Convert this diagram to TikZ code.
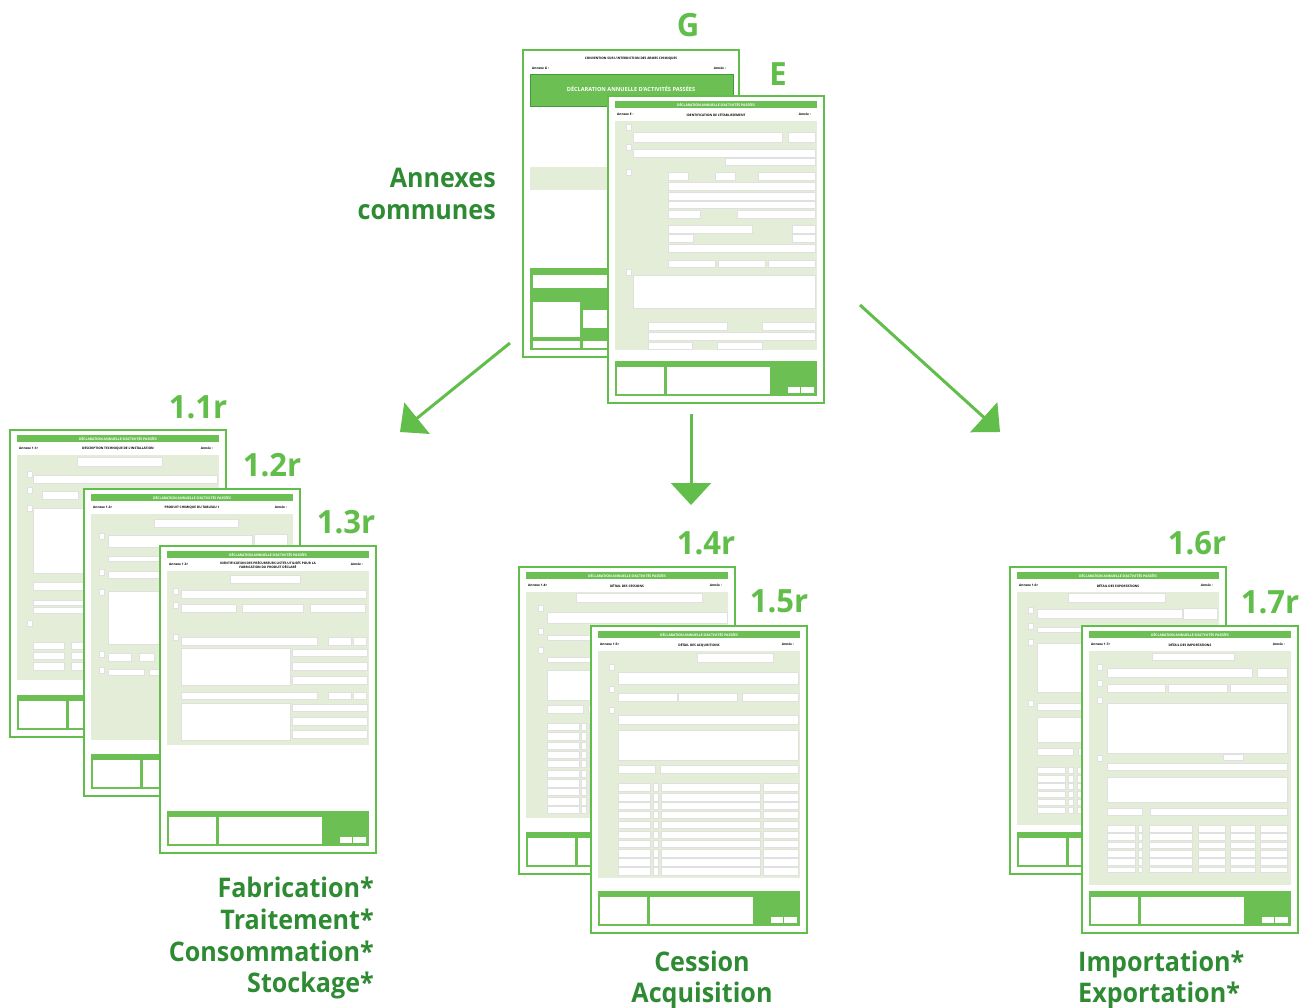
\documentclass[tikz,border=0pt]{standalone}
\usepackage{fontspec}
\setmainfont{Open Sans}
\newfontfamily\capfont[FakeStretch=0.93]{Open Sans}
\newfontfamily\numfont[FakeStretch=0.97]{Open Sans}
\usetikzlibrary{arrows.meta}
\definecolor{lg}{HTML}{62BE4A}
\definecolor{dg}{HTML}{2E8B34}
\definecolor{formbg}{HTML}{E3EDD8}
\definecolor{barg}{HTML}{6CBF52}
\tikzset{
  page/.style={draw=lg, line width=1.5pt, fill=white},
  bar/.style={fill=barg},
  formbody/.style={fill=formbg},
  fld/.style={fill=white, draw=black!12, line width=0.2pt},
  tiny/.style={font=\fontsize{3.2}{3.8}\selectfont\bfseries, inner sep=0pt},
  bartext/.style={font=\fontsize{3.4}{4}\selectfont\bfseries, text=white, inner sep=0pt},
  numlabel/.style={font=\numfont\fontsize{32}{32}\selectfont\bfseries, text=lg, inner sep=0pt},
  caption/.style={font=\capfont\fontsize{27}{32}\selectfont\bfseries, text=dg, inner sep=0pt},
  bigarrow/.style={draw=lg, line width=3pt, -{Triangle[length=22pt,width=40pt]}}
}
\newcommand\formhead[4]{%
  \draw[page] (0,0) rectangle (216,307);
  \fill[bar] (7,5) rectangle (209,12);
  \node[bartext] (#1bar) at (108,8.5) {DÉCLARATION ANNUELLE D'ACTIVITÉS PASSÉES};
  \node[tiny, anchor=west] (#1ann) at (9,18) {#2};
  \node[tiny, align=center] (#1tit) at (108,19) {#3};
  \node[tiny, anchor=east] (#1yr) at (203,18) {Année :};
  \fill[formbody] (7,25) rectangle (209,#4);
  \fill[bar] (7,265) rectangle (209,300);
  \fill[white] (9,271) rectangle (56,298);
  \fill[white] (59,271) rectangle (162,298);
  \fill[white] (180,291) rectangle (192,297);
  \fill[white] (193,291) rectangle (206,297);
}
\newcommand\formfields[1]{\foreach \xa/\ya/\xb/\yb in {#1} {\fill[fld] (\xa,\ya) rectangle (\xb,\yb);}}
\newcommand\formboxes[1]{\foreach \xa/\ya in {#1} {\fill[fld] (\xa,\ya) rectangle ++(5,6);}}
\newcommand\formtable[2]{\foreach \ya/\yb in {#1} {\foreach \xa/\xb in {#2} {\fill[fld] (\xa,\ya) rectangle (\xb,\yb);}}}

\begin{document}
\begin{tikzpicture}[x=1pt,y=-1pt]
\fill[white] (0,0) rectangle (1306,1008);
\useasboundingbox (0,0) rectangle (1306,1008);

% ---------------- Form G ----------------
\begin{scope}[shift={(523,50)}]
  \draw[page] (0,0) rectangle (216,307);
  \node[tiny] (Gconv) at (108,9) {CONVENTION SUR L'INTERDICTION DES ARMES CHIMIQUES};
  \node[tiny, anchor=west] (Gann) at (9,18) {Annexe G :};
  \node[tiny, anchor=east] (Gyr) at (203,18) {Année :};
  \fill[bar, draw=dg!70!barg, line width=0.6pt] (7,24) rectangle (210,56);
  \node[font=\fontsize{5.6}{6}\selectfont\bfseries, text=white, inner sep=0pt] (Gtitle) at (108,39) {DÉCLARATION ANNUELLE D'ACTIVITÉS PASSÉES};
  \fill[formbody] (7,117) rectangle (210,140);
  \fill[bar] (7,218) rectangle (210,300);
  \fill[white] (10,225) rectangle (207,238);
  \fill[white] (10,252) rectangle (57,287);
  \fill[white] (60,260) rectangle (207,278);
  \fill[white] (10,291) rectangle (57,298);
  \fill[white] (60,291) rectangle (207,298);
\end{scope}

% ---------------- Form E ----------------
\begin{scope}[shift={(608,96)}]
  \formhead{E}{Annexe E :}{IDENTIFICATION DE L'ÉTABLISSEMENT}{254}
  \formfields{25/36/174/46, 180/36/207/46, 25/53/207/61, 117/62/207/69,
    60/76/80/84, 107/76/127/84, 150/76/207/84, 60/86/207/94, 60/96/207/104,
    60/105/207/112, 60/114/92/122, 129/114/207/122, 60/129/144/137, 184/129/207/137,
    60/138/85/146, 184/138/207/146, 60/148/207/156, 60/164/107/171, 110/164/157/171,
    160/164/207/171, 25/179/207/212, 40/226/119/234, 154/226/207/234, 40/236/207/244,
    40/246/84/253, 109/246/154/253}
  \formboxes{18/28, 18/48, 18/73, 18/173}
\end{scope}

% ---------------- Form 1.1r ----------------
\begin{scope}[shift={(10,430)}]
  \formhead{Fa}{Annexe 1.1r}{DESCRIPTION TECHNIQUE DE L'INSTALLATION}{250}
  \formfields{67/27/152/36, 23/45/207/53, 32/61/68/69, 23/78/207/143,
    23/152/207/160, 23/170/207/175, 23/177/207/183}
  \formtable{212/219, 222/229, 232/240}{23/54, 61/92, 98/130, 136/170, 176/207}
  \formboxes{17/41, 17/57, 17/75, 17/190}
\end{scope}

% ---------------- Form 1.2r ----------------
\begin{scope}[shift={(84,489)}]
  \formhead{Fb}{Annexe 1.2r}{PRODUIT CHIMIQUE DU TABLEAU 1}{251}
  \formfields{70/30/154/38, 24/46/168/58, 170/45/203/56, 24/67/206/72,
    24/82/83/89, 89/82/148/89, 151/82/206/89, 24/102/206/155,
    24/164/47/172, 55/164/70/172, 80/164/130/172, 24/180/60/186, 65/180/130/186}
  \formboxes{15/44, 15/80, 15/100, 15/162, 15/178}
\end{scope}

% ---------------- Form 1.3r ----------------
\begin{scope}[shift={(160,546)}]
  \formhead{Fc}{Annexe 1.3r}{IDENTIFICATION DES PRÉCURSEURS LISTÉS UTILISÉS POUR LA\\FABRICATION DU PRODUIT DÉCLARÉ}{199}
  \formfields{70/29/140/37, 21/44/206/52, 21/58/76/66, 82/58/143/66, 150/58/205/66,
    21/91/157/99, 168/91/191/99, 193/91/206/99,
    21/102/130/139, 132/103/207/110, 132/116/207/124, 132/130/207/138,
    21/146/157/153, 168/146/191/153, 193/146/206/153,
    21/157/130/194, 132/158/207/165, 132/171/207/179, 132/184/207/192}
  \formboxes{13/42, 13/56, 13/88}
\end{scope}

% ---------------- Form 1.4r ----------------
\begin{scope}[shift={(519,567)}]
  \formhead{Fd}{Annexe 1.4r}{DÉTAIL DES CESSIONS}{251}
  \formfields{57/26/183/35, 28/45/208/56, 28/68/83/73, 89/68/148/73, 151/68/206/73,
    28/90/206/95, 28/103/206/133, 28/138/64/146, 69/138/206/146}
  \formtable{156/163, 165/173, 175/182, 184/191, 193/200, 203/210, 212/220, 221/228, 230/238, 239/246}{28/60, 62/67, 70/169, 172/207}
  \formboxes{19/38, 19/61, 19/80}
\end{scope}

% ---------------- Form 1.5r ----------------
\begin{scope}[shift={(591,626)}]
  \formhead{Fe}{Annexe 1.5r}{DÉTAIL DES ACQUISITIONS}{252}
  \formfields{106/27/182/36, 27/46/207/58, 27/67/86/75, 87/67/146/75, 151/67/207/75,
    27/89/207/98, 27/104/207/134, 27/139/64/147, 69/139/207/147}
  \formtable{157/165, 167/175, 176/183, 185/192, 195/202, 205/212, 214/221, 223/231, 232/240, 241/249}{27/59, 62/67, 70/169, 172/207}
  \formboxes{18/38, 18/60, 18/81}
\end{scope}

% ---------------- Form 1.6r ----------------
\begin{scope}[shift={(1010,567)}]
  \formhead{Ff}{Annexe 1.6r}{DÉTAIL DES EXPORTATIONS}{258}
  \formfields{58/26/155/35, 27/42/172/51, 173/41/207/52,
    27/60/86/65, 92/60/150/65, 153/60/207/65, 27/76/207/125,
    27/136/207/143, 27/150/207/175, 27/181/63/188, 68/181/207/188}
  \formtable{200/206, 208/215, 216/222, 224/230, 232/238, 240/246}{27/55, 58/63, 67/110, 116/143, 148/173, 178/207}
  \formboxes{18/40, 18/56, 18/72, 18/133}
\end{scope}

% ---------------- Form 1.7r ----------------
\begin{scope}[shift={(1082,626)}]
  \formhead{Fg}{Annexe 1.7r}{DÉTAIL DES IMPORTATIONS}{259}
  \formfields{70/27/152/34, 25/42/170/51, 175/42/205/51,
    25/58/83/66, 86/58/145/66, 148/58/205/66, 25/77/205/127, 141/128/161/134,
    25/137/205/144, 25/151/205/176, 25/182/60/189, 68/182/205/189}
  \formtable{199/206, 207/214, 216/222, 224/231, 232/239, 241/246}{25/53, 56/60, 67/110, 116/143, 148/173, 178/205}
  \formboxes{15/38, 15/54, 15/71, 15/129}
\end{scope}

% ---------------- Labels ----------------
\node[numlabel, anchor=base] (lG) at (688,37) {G};
\node[numlabel, anchor=base] (lE) at (778,86) {E};
\node[numlabel, anchor=base] (l11) at (198,418) {1.1r};
\node[numlabel, anchor=base] (l12) at (272,476) {1.2r};
\node[numlabel, anchor=base] (l13) at (346,533) {1.3r};
\node[numlabel, anchor=base] (l14) at (706,554) {1.4r};
\node[numlabel, anchor=base] (l15) at (779,612) {1.5r};
\node[numlabel, anchor=base] (l16) at (1197,554) {1.6r};
\node[numlabel, anchor=base] (l17) at (1270,613) {1.7r};

\node[caption, anchor=base east] (cAnn1) at (496,188) {Annexes};
\node[caption, anchor=base east] (cAnn2) at (496,220) {communes};

\node[caption, anchor=base east] (cF1) at (374,897) {Fabrication*};
\node[caption, anchor=base east] (cF2) at (374,929) {Traitement*};
\node[caption, anchor=base east] (cF3) at (374,961) {Consommation*};
\node[caption, anchor=base east] (cF4) at (374,992) {Stockage*};

\node[caption, anchor=base] (cC1) at (702,971) {Cession};
\node[caption, anchor=base] (cC2) at (702,1002) {Acquisition};

\node[caption, anchor=base west] (cI1) at (1078,971) {Importation*};
\node[caption, anchor=base west] (cI2) at (1078,1002) {Exportation*};

% ---------------- Arrows ----------------
\coordinate (a1s) at (510,343);
\coordinate (a1e) at (400,432);
\coordinate (a2s) at (691,414);
\coordinate (a2e) at (691,505);
\coordinate (a3s) at (860,305);
\coordinate (a3e) at (1000,432);
\draw[bigarrow] (a1s) -- (a1e);
\draw[bigarrow] (a2s) -- (a2e);
\draw[bigarrow] (a3s) -- (a3e);
\end{tikzpicture}
\end{document}
